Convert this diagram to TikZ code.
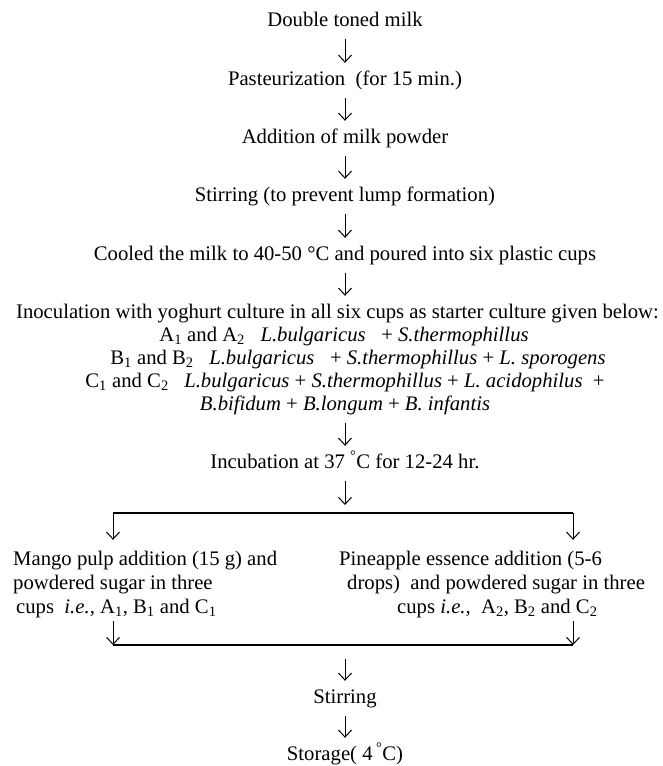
\documentclass[tikz,border=0pt]{standalone}
\usepackage{fontspec}
\setmainfont{Liberation Serif}
\usetikzlibrary{arrows.meta}
\begin{document}
\begin{tikzpicture}[x=1pt,y=-1pt,
  txt/.style={font=\fontsize{20.7}{24}\selectfont, inner sep=0pt, text height=14pt, text depth=4.5pt, anchor=base},
  ltxt/.style={txt, anchor=base west},
  arr/.style={line width=1pt, -{Straight Barb[length=7pt,width=13pt,line width=1pt]}},
  flow/.style={arr, shorten <=8.5pt, shorten >=8pt},
  bar/.style={line width=1.2pt}]
\useasboundingbox (0,0) rectangle (663,766);
% main column
\node[txt] (t1) at (345,26) {Double toned milk};
\node[txt] (t2) at (345,85) {Pasteurization~ (for 15 min.)};
\node[txt] (t3) at (345,143) {Addition of milk powder};
\node[txt] (t4) at (345,201) {Stirring (to prevent lump formation)};
\node[txt] (t5) at (345,260) {Cooled the milk to 40-50 °C and poured into six plastic cups};
\node[txt] (t6) at (337.5,318) {Inoculation with yoghurt culture in all six cups as starter culture given below:};
\node[txt] (la) at (344,341) {A\textsubscript{1} and A\textsubscript{2}~~ \textit{L.bulgaricus}~~ + \textit{S.thermophillus}};
\node[txt] (lb) at (358,364) {B\textsubscript{1} and B\textsubscript{2}~~ \textit{L.bulgaricus}~~ + \textit{S.thermophillus} + \textit{L. sporogens}};
\node[txt] (lc) at (345,387) {C\textsubscript{1} and C\textsubscript{2}~~ \textit{L.bulgaricus} + \textit{S.thermophillus} + \textit{L. acidophilus}~ +};
\node[txt] (ld) at (345,410) {\textit{B.bifidum} + \textit{B.longum} + \textit{B. infantis}};
\node[txt] (inc) at (345,468) {Incubation at 37 \textsuperscript{°}C for 12-24 hr.};
% branches
\node[ltxt] (m1) at (13,565) {Mango pulp addition (15 g) and};
\node[ltxt] (m2) at (13,589) {powdered sugar in three};
\node[ltxt] (m3) at (16,613) {cups~ \textit{i.e.,} A\textsubscript{1}, B\textsubscript{1} and C\textsubscript{1}};
\node[ltxt] (p1) at (339,565) {Pineapple essence addition (5-6};
\node[ltxt] (p2) at (347,589) {drops)~ and powdered sugar in three};
\node[ltxt] (p3) at (397,613) {cups \textit{i.e.}, ~A\textsubscript{2}, B\textsubscript{2} and C\textsubscript{2}};
\node[txt] (st) at (345,703) {Stirring};
\node[txt] (sg) at (345,760) {Storage( 4\,\textsuperscript{°}C)};
% connectors
\draw[flow] (t1) -- (t2);
\draw[flow] (t2) -- (t3);
\draw[flow] (t3) -- (t4);
\draw[flow] (t4) -- (t5);
\draw[flow] (t5) -- (t5 |- t6.north);
\draw[flow] (ld) -- (inc);
\coordinate (split) at (345,505);
\coordinate (bl) at (113,513);
\coordinate (br) at (573,513);
\coordinate (jl) at (113,645);
\coordinate (jr) at (573,645);
\coordinate (join) at (345,645);
\draw[arr, shorten <=8.5pt] (inc.south) -- (split);
\draw[bar] (bl) -- (br);
\draw[arr, shorten >=11pt] (bl) -- (bl |- m1.north);
\draw[arr, shorten >=11pt] (br) -- (br |- p1.north);
\draw[arr, shorten <=3.5pt] (jl |- m3.south) -- (jl);
\draw[arr, shorten <=3.5pt] (jr |- p3.south) -- (jr);
\draw[bar] (jl) -- (jr);
\draw[arr, shorten <=14pt, shorten >=8pt] (join) -- (st.north);
\draw[flow] (st) -- (sg);
\end{tikzpicture}
\end{document}
